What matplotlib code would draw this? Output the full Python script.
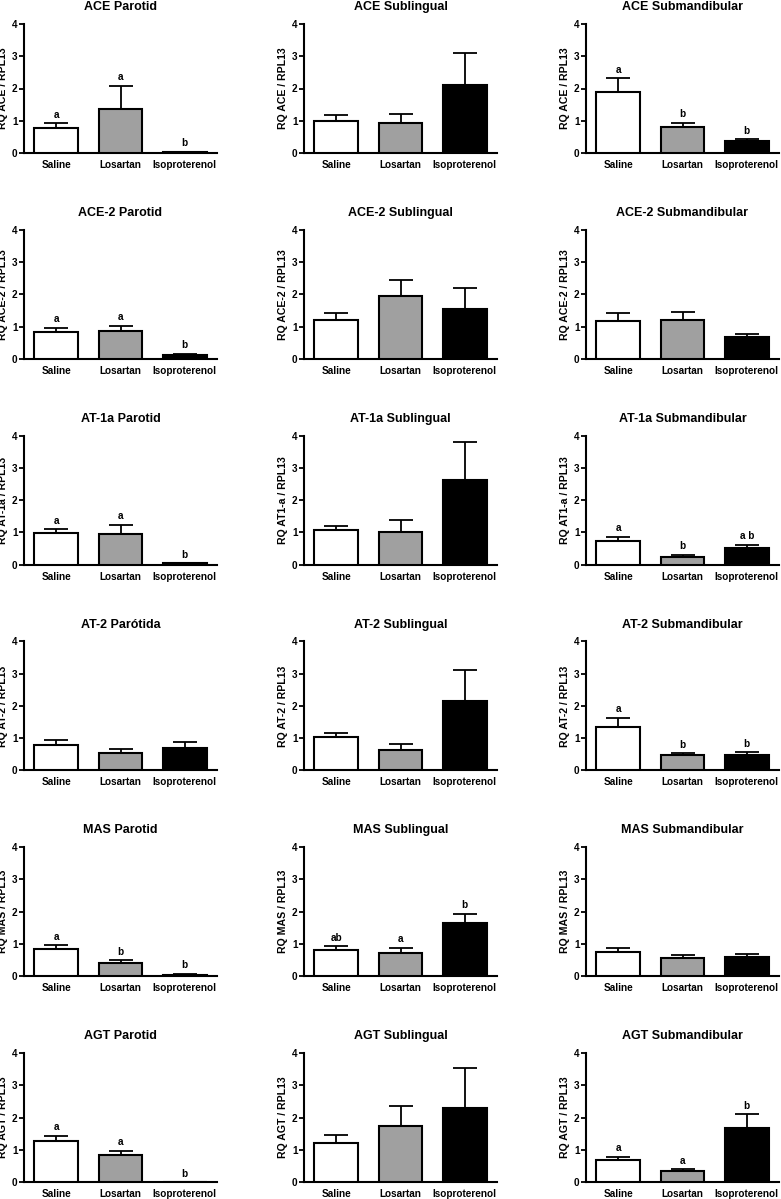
import numpy as np
import matplotlib
matplotlib.use('Agg')
import matplotlib.pyplot as plt

plt.rcParams['font.family'] = ['Liberation Sans', 'DejaVu Sans']
plt.rcParams['font.weight'] = 'bold'

groups = ['Saline', 'Losartan', 'Isoproterenol']
tissues = ['Parotid', 'Sublingual', 'Submandibular']
genes = ['ACE', 'ACE-2', 'AT-1a', 'AT-2', 'MAS', 'AGT']

titles = [
    ['ACE Parotid', 'ACE Sublingual', 'ACE Submandibular'],
    ['ACE-2 Parotid', 'ACE-2 Sublingual', 'ACE-2 Submandibular'],
    ['AT-1a Parotid', 'AT-1a Sublingual', 'AT-1a Submandibular'],
    ['AT-2 Parótida', 'AT-2 Sublingual', 'AT-2 Submandibular'],
    ['MAS Parotid', 'MAS Sublingual', 'MAS Submandibular'],
    ['AGT Parotid', 'AGT Sublingual', 'AGT Submandibular'],
]
ylabels = [
    ['RQ ACE / RPL13'] * 3,
    ['RQ ACE-2 / RPL13'] * 3,
    ['RQ AT-1a / RPL13', 'RQ AT1-a / RPL13', 'RQ AT1-a / RPL13'],
    ['RQ AT-2 / RPL13'] * 3,
    ['RQ MAS / RPL13'] * 3,
    ['RQ AGT / RPL13'] * 3,
]

# mean per tissue (Parotid, Sublingual, Submandibular) x group
ace_mean = [[0.79, 1.37, 0.03], [0.99, 0.93, 2.11], [1.89, 0.82, 0.36]]
ace_sem = [[0.13, 0.72, 0.01], [0.18, 0.27, 1.00], [0.43, 0.12, 0.07]]
ace2_mean = [[0.83, 0.86, 0.11], [1.19, 1.94, 1.55], [1.18, 1.20, 0.69]]
ace2_sem = [[0.14, 0.16, 0.05], [0.24, 0.49, 0.64], [0.25, 0.24, 0.09]]
at1_mean = [[0.97, 0.95, 0.04], [1.08, 1.00, 2.62], [0.74, 0.25, 0.52]]
at1_sem = [[0.12, 0.29, 0.0], [0.13, 0.37, 1.17], [0.13, 0.05, 0.10]]
at2_mean = [[0.80, 0.53, 0.69], [1.03, 0.62, 2.16], [1.36, 0.47, 0.47]]
at2_sem = [[0.15, 0.13, 0.19], [0.13, 0.19, 0.96], [0.28, 0.06, 0.09]]
mas_mean = [[0.84, 0.40, 0.04], [0.82, 0.72, 1.65], [0.75, 0.55, 0.58]]
mas_sem = [[0.12, 0.10, 0.03], [0.11, 0.16, 0.28], [0.11, 0.12, 0.12]]
agt_mean = [[1.26, 0.85, 0.0], [1.20, 1.75, 2.28], [0.68, 0.35, 1.67]]
agt_sem = [[0.17, 0.12, 0.0], [0.25, 0.62, 1.27], [0.10, 0.05, 0.43]]

ace_letters = [['a', 'a', 'b'], None, ['a', 'b', 'b']]
ace2_letters = [['a', 'a', 'b'], None, None]
at1_letters = [['a', 'a', 'b'], None, ['a', 'b', 'a b']]
at2_letters = [None, None, ['a', 'b', 'b']]
mas_letters = [['a', 'b', 'b'], ['ab', 'a', 'b'], None]
agt_letters = [['a', 'a', 'b'], None, ['a', 'a', 'b']]

means = [ace_mean, ace2_mean, at1_mean, at2_mean, mas_mean, agt_mean]
sems = [ace_sem, ace2_sem, at1_sem, at2_sem, mas_sem, agt_sem]
letters = [ace_letters, ace2_letters, at1_letters, at2_letters, mas_letters, agt_letters]

bar_colors = ['white', '#a0a0a0', 'black']

W, H = 781, 1199
fig = plt.figure(figsize=(W / 100, H / 100), dpi=100)

col_left = [24, 304, 586]
ax_w = 193
ax_h = 129
row_top0 = 24
row_step = 205.8

x = np.arange(len(groups))
for r in range(len(genes)):
    for c in range(len(tissues)):
        top = row_top0 + r * row_step
        ax = fig.add_axes([col_left[c] / W, 1 - (top + ax_h) / H, ax_w / W, ax_h / H])
        m = means[r][c]
        s = sems[r][c]
        ax.bar(x, m, width=0.68, color=bar_colors, edgecolor='black', linewidth=1.5,
               yerr=[[0, 0, 0], s], capsize=8.5,
               error_kw=dict(elinewidth=1.3, capthick=1.3, ecolor='black'), zorder=3)
        lets = letters[r][c]
        if lets:
            for i, lt in enumerate(lets):
                ax.annotate(lt, (x[i], m[i] + s[i]), xytext=(0, 2.5), textcoords='offset points',
                            ha='center', va='bottom', fontsize=7.2, fontweight='bold')
        ax.set_xlim(-0.5, 2.5)
        ax.set_ylim(0, 4)
        ax.set_yticks([0, 1, 2, 3, 4])
        ax.set_xticks(x)
        ax.set_xticklabels(groups, fontsize=7.2, fontweight='bold')
        ax.tick_params(axis='x', length=0, pad=5)
        ax.tick_params(axis='y', length=3.5, width=1.3, pad=1, labelsize=7.2)
        for sp in ['top', 'right']:
            ax.spines[sp].set_visible(False)
        for sp in ['left', 'bottom']:
            ax.spines[sp].set_linewidth(1.5)
        ax.set_title(titles[r][c], fontsize=9, fontweight='bold', pad=10)
        ax.set_ylabel(ylabels[r][c], fontsize=7.6, fontweight='bold', labelpad=3)

fig.savefig('out.png', dpi=100, facecolor='white')
